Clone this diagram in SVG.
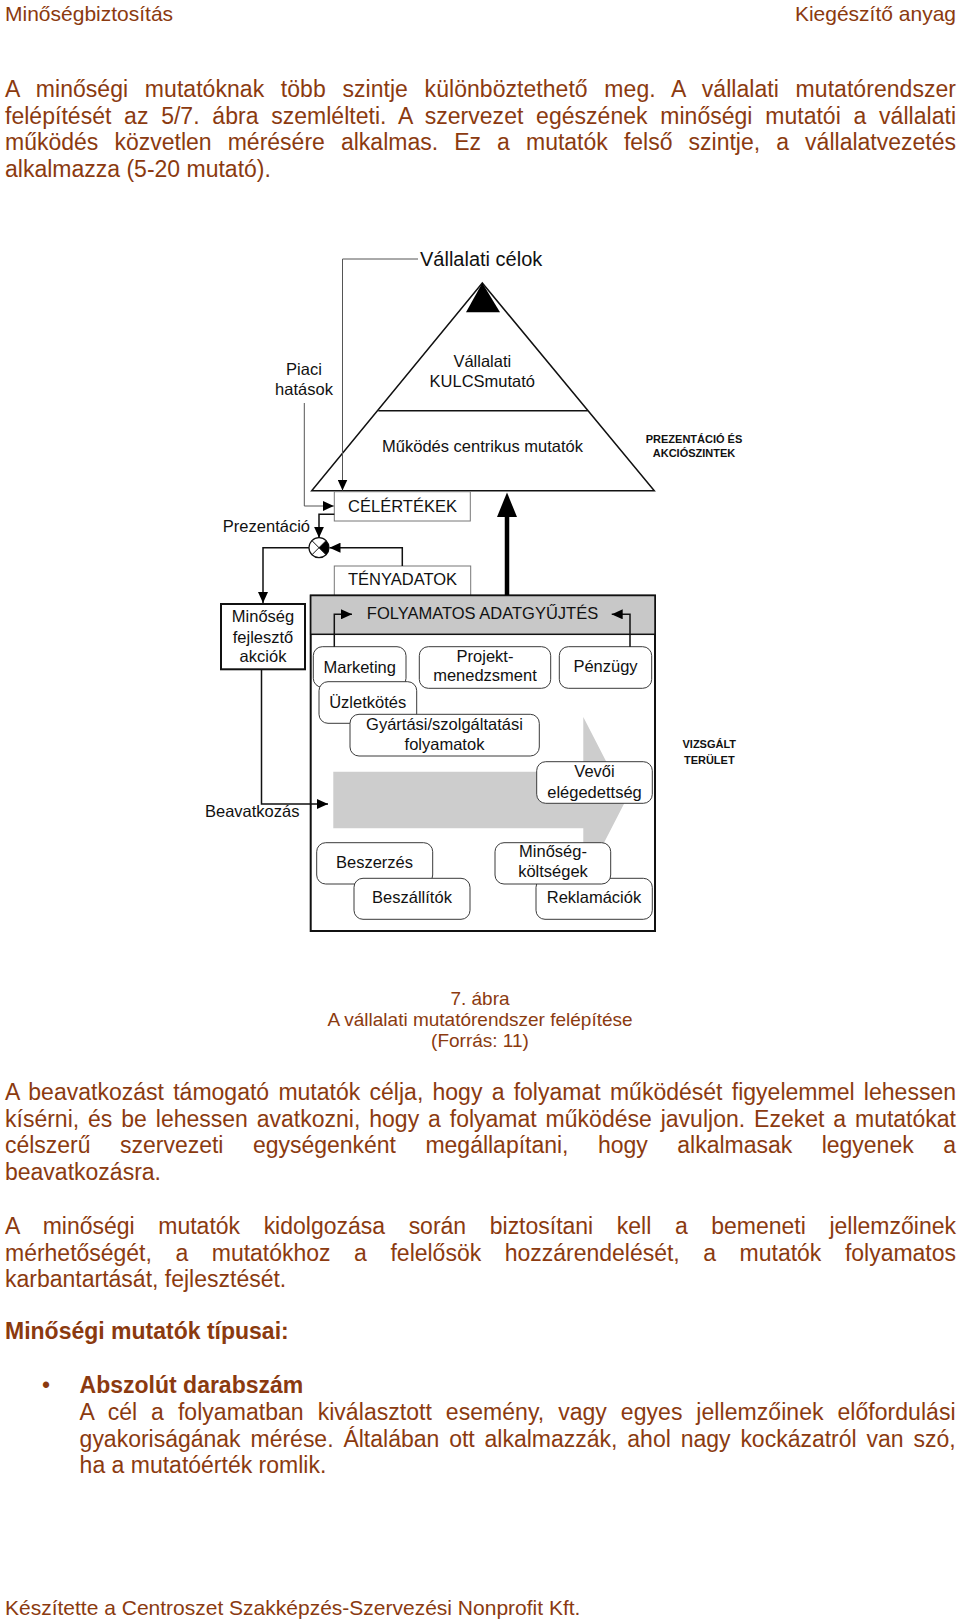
<svg xmlns="http://www.w3.org/2000/svg" width="960" height="1621" viewBox="0 0 960 1621">
<style>
.t{font-family:"Liberation Sans",Arial,sans-serif;fill:#8b3a0f}
.b{font-size:23px}
.h{font-size:21px}
.cap{font-size:19px;text-anchor:middle}
.bold{font-weight:bold}
.dg{font-family:"Liberation Sans",Arial,sans-serif;font-size:16.5px;fill:#111;text-anchor:middle}
.sm{font-size:11px;font-weight:bold}
.rb{fill:#fff;stroke:#3a3a3a;stroke-width:1}
.gb{fill:#fff;stroke:#777;stroke-width:1}
.ln{fill:none;stroke:#111;stroke-width:1.5}
.gl{fill:none;stroke:#555;stroke-width:1}
</style>
<defs>
<marker id="ah" markerUnits="userSpaceOnUse" markerWidth="11" markerHeight="10" refX="11" refY="5" orient="auto">
<path d="M0,0 L11,5 L0,10 Z" fill="#000"/>
</marker>
</defs>
<rect width="960" height="1621" fill="#fff"/>

<!-- page text -->
<text class="t h" x="5" y="21">Minőségbiztosítás</text>
<text class="t h" x="956" y="21" text-anchor="end">Kiegészítő anyag</text>

<text class="t b" x="5" y="97" textLength="951" lengthAdjust="spacing" word-spacing="10.2">A minőségi mutatóknak több szintje különböztethető meg. A vállalati mutatórendszer</text>
<text class="t b" x="5" y="123.5" textLength="951" lengthAdjust="spacing" word-spacing="6.3">felépítését az 5/7. ábra szemlélteti. A szervezet egészének minőségi mutatói a vállalati</text>
<text class="t b" x="5" y="150" textLength="951" lengthAdjust="spacing" word-spacing="9.7">működés közvetlen mérésére alkalmas. Ez a mutatók felső szintje, a vállalatvezetés</text>
<text class="t b" x="5" y="176.5">alkalmazza (5-20 mutató).</text>

<g id="caption">
<text class="t cap" x="480" y="1004.5">7. ábra</text>
<text class="t cap" x="480" y="1026">A vállalati mutatórendszer felépítése</text>
<text class="t cap" x="480" y="1047">(Forrás: 11)</text>
</g>

<text class="t b" x="5" y="1099.5" textLength="951" lengthAdjust="spacing" word-spacing="2.8">A beavatkozást támogató mutatók célja, hogy a folyamat működését figyelemmel lehessen</text>
<text class="t b" x="5" y="1126.5" textLength="951" lengthAdjust="spacing" word-spacing="2.5">kísérni, és be lehessen avatkozni, hogy a folyamat működése javuljon. Ezeket a mutatókat</text>
<text class="t b" x="5" y="1153" textLength="951" lengthAdjust="spacing" word-spacing="23.2">célszerű szervezeti egységenként megállapítani, hogy alkalmasak legyenek a</text>
<text class="t b" x="5" y="1180">beavatkozásra.</text>

<text class="t b" x="5" y="1234" textLength="951" lengthAdjust="spacing" word-spacing="17.2">A minőségi mutatók kidolgozása során biztosítani kell a bemeneti jellemzőinek</text>
<text class="t b" x="5" y="1260.5" textLength="951" lengthAdjust="spacing" word-spacing="17.2">mérhetőségét, a mutatókhoz a felelősök hozzárendelését, a mutatók folyamatos</text>
<text class="t b" x="5" y="1287">karbantartását, fejlesztését.</text>

<text class="t b bold" x="5" y="1338.5">Minőségi mutatók típusai:</text>

<text class="t b" x="42" y="1392.5">•</text>
<text class="t b bold" x="79.6" y="1392.5">Abszolút darabszám</text>
<text class="t b" x="79.6" y="1420" textLength="876" lengthAdjust="spacing" word-spacing="7.5">A cél a folyamatban kiválasztott esemény, vagy egyes jellemzőinek előfordulási</text>
<text class="t b" x="79.6" y="1446.5" textLength="876" lengthAdjust="spacing" word-spacing="3.5">gyakoriságának mérése. Általában ott alkalmazzák, ahol nagy kockázatról van szó,</text>
<text class="t b" x="79.6" y="1473">ha a mutatóérték romlik.</text>

<text class="t h" x="5" y="1615">Készítette a Centroszet Szakképzés-Szervezési Nonprofit Kft.</text>

<!-- diagram -->
<g id="pyramid">
<polygon points="482.3,283 311.7,490.7 654.3,490.7" fill="#fff" stroke="#111" stroke-width="1.5"/>
<line x1="378.3" y1="410.7" x2="587.7" y2="410.7" stroke="#111" stroke-width="1.5"/>
<polygon points="482.3,283 466,312.3 500,312.3" fill="#000"/>
<text class="dg" x="482.3" y="366.7">Vállalati</text>
<text class="dg" x="482.3" y="386.7">KULCSmutató</text>
<text class="dg" x="482.5" y="451.7">Működés centrikus mutatók</text>
</g>

<g id="label-celok"><text class="dg" x="420" y="266" style="font-size:20px;text-anchor:start">Vállalati célok</text></g>
<g id="label-piaci"><text class="dg" x="304" y="374.5">Piaci</text><text class="dg" x="304" y="395">hatások</text></g>
<g id="label-prez-akcio"><text class="dg sm" x="694" y="442.7">PREZENTÁCIÓ ÉS</text><text class="dg sm" x="694" y="456.7">AKCIÓSZINTEK</text></g>
<g id="label-vizsgalt"><text class="dg sm" x="709.3" y="748.3">VIZSGÁLT</text><text class="dg sm" x="709.3" y="764">TERÜLET</text></g>
<g id="label-prezentacio"><text class="dg" x="310" y="531.7" style="text-anchor:end">Prezentáció</text></g>
<g id="label-beavatkozas"><text class="dg" x="205" y="817.3" style="text-anchor:start">Beavatkozás</text></g>

<g id="celertekek">
<rect class="gb" x="334.3" y="491.7" width="136" height="29.3"/>
<text class="dg" x="402.5" y="511.7">CÉLÉRTÉKEK</text>
</g>
<g id="tenyadatok">
<rect class="gb" x="334.3" y="566" width="136.4" height="29.5"/>
<text class="dg" x="402.5" y="585">TÉNYADATOK</text>
</g>

<g id="comparator">
<circle cx="319" cy="547.7" r="10" fill="#fff" stroke="#111" stroke-width="1.2"/>
<path d="M319,547.7 L326.07,540.63 A10,10 0 0,1 326.07,554.77 Z" fill="#000"/>
<line x1="311.93" y1="540.63" x2="326.07" y2="554.77" stroke="#111" stroke-width="1"/>
<line x1="311.93" y1="554.77" x2="326.07" y2="540.63" stroke="#111" stroke-width="1"/>
</g>

<g id="minoseg-akciok">
<rect x="221" y="604" width="84" height="65.3" fill="#fff" stroke="#111" stroke-width="2"/>
<text class="dg" x="263" y="621.7">Minőség</text>
<text class="dg" x="263" y="642.5">fejlesztő</text>
<text class="dg" x="263" y="661.7">akciók</text>
</g>

<g id="vizsgalt-terulet">
<rect x="310.7" y="595.5" width="344.3" height="335.5" fill="#fff" stroke="#111" stroke-width="2"/>
<rect x="310.7" y="595.5" width="344.3" height="38.8" fill="#c8c8c8" stroke="#111" stroke-width="1.5"/>
<text class="dg" x="482.5" y="619.3">FOLYAMATOS ADATGYŰJTÉS</text>
<polygon id="process-arrow" points="333.3,771.7 583.3,771.7 583.3,717 626,800 583.3,883 583.3,828.3 333.3,828.3" fill="#cdcdcd"/>
</g>

<g id="marketing"><rect class="rb" x="313.3" y="646.7" width="92.7" height="40.6" rx="9"/><text class="dg" x="359.7" y="672.5">Marketing</text></g>
<g id="uzletkotes"><rect class="rb" x="319" y="681.7" width="97.7" height="41.6" rx="9"/><text class="dg" x="367.7" y="708.3">Üzletkötés</text></g>
<g id="projekt"><rect class="rb" x="419.3" y="646.7" width="131.4" height="41.6" rx="9"/><text class="dg" x="485" y="661.7">Projekt-</text><text class="dg" x="485" y="680.5">menedzsment</text></g>
<g id="penzugy"><rect class="rb" x="559.3" y="646.7" width="92.4" height="41.6" rx="9"/><text class="dg" x="605.5" y="671.7">Pénzügy</text></g>
<g id="gyartasi"><rect class="rb" x="350" y="714.3" width="189.3" height="41.7" rx="9"/><text class="dg" x="444.5" y="730">Gyártási/szolgáltatási</text><text class="dg" x="444.5" y="749.5">folyamatok</text></g>
<g id="vevoi"><rect class="rb" x="536.7" y="761.7" width="115.6" height="41.6" rx="9"/><text class="dg" x="594.5" y="777.3">Vevői</text><text class="dg" x="594.5" y="797.7">elégedettség</text></g>
<g id="beszerzes"><rect class="rb" x="316.7" y="842.7" width="116" height="41.3" rx="9"/><text class="dg" x="374.5" y="867.7">Beszerzés</text></g>
<g id="beszallitok"><rect class="rb" x="354" y="878.3" width="116" height="41" rx="9"/><text class="dg" x="412" y="903.3">Beszállítók</text></g>
<g id="reklamaciok"><rect class="rb" x="536" y="878.3" width="116.3" height="41" rx="9"/><text class="dg" x="594" y="903.3">Reklamációk</text></g>
<g id="minoseg-koltsegek"><rect class="rb" x="495" y="842.7" width="115.7" height="41.3" rx="9"/><text class="dg" x="553" y="856.7">Minőség-</text><text class="dg" x="553" y="876.7">költségek</text></g>

<g id="connectors">
<path class="gl" d="M418,259 H342.5 V490.5" marker-end="url(#ah)"/>
<path class="gl" d="M304.3,403 V506 H333.8" marker-end="url(#ah)"/>
<path class="ln" d="M334.3,514.3 H319 V537.7" marker-end="url(#ah)"/>
<path class="ln" d="M402.3,566 V547.7 H329.5" marker-end="url(#ah)"/>
<path class="ln" d="M309,547.7 H263 V603" marker-end="url(#ah)"/>
<path class="ln" d="M261.5,669.3 V804 H328" marker-end="url(#ah)"/>
<path class="ln" d="M334.3,646.7 V614.3 H352" marker-end="url(#ah)"/>
<path class="ln" d="M630,646.7 V614.3 H611.7" marker-end="url(#ah)"/>
<line x1="507" y1="595" x2="507" y2="514" stroke="#000" stroke-width="4.5"/>
<polygon points="497,517 517,517 507,492.5" fill="#000"/>
</g>
</svg>
